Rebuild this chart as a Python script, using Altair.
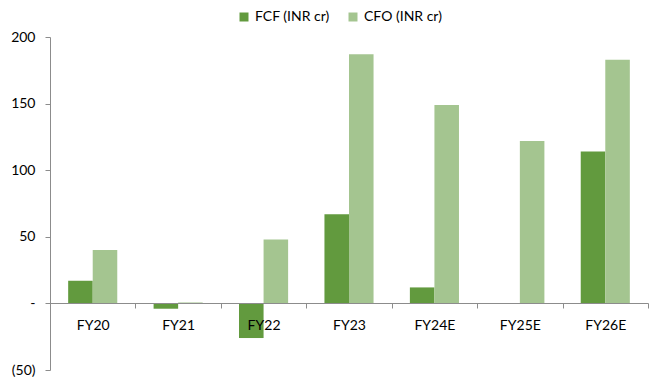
import altair as alt
import pandas as pd

# Fiscal years and cash-flow series (INR crore)
years = ["FY20", "FY21", "FY22", "FY23", "FY24E", "FY25E", "FY26E"]
fcf = [17, -4, -26, 67, 12, 0, 114]
cfo = [40, 0.7, 48, 187, 149, 122, 183]

series_names = ["FCF (INR cr)", "CFO (INR cr)"]
series_colors = ["#629A3E", "#A4C590"]

rows = []
for i, y in enumerate(years):
    rows.append({"year": y, "series": series_names[0], "value": fcf[i]})
    rows.append({"year": y, "series": series_names[1], "value": cfo[i]})
df = pd.DataFrame(rows)

FONT = "Lato"
AXIS_GREY = "#8C8C8C"

bars = alt.Chart(df).mark_bar().encode(
    x=alt.X(
        "year:N",
        sort=years,
        title=None,
        scale=alt.Scale(paddingInner=0, paddingOuter=0),
        axis=alt.Axis(
            orient="bottom",
            offset=-67,
            zindex=1,
            tickBand="extent",
            tickSize=5,
            tickColor=AXIS_GREY,
            domainColor=AXIS_GREY,
            labelAngle=0,
            labelPadding=10,
            labelFontSize=14,
            labelColor="#000000",
            labelFont=FONT,
        ),
    ),
    xOffset=alt.XOffset(
        "series:N",
        sort=series_names,
        scale=alt.Scale(paddingOuter=0.74, paddingInner=0),
    ),
    y=alt.Y(
        "value:Q",
        title=None,
        scale=alt.Scale(domain=[-50, 200], nice=False, zero=True),
        axis=alt.Axis(
            values=[-50, 0, 50, 100, 150, 200],
            labelExpr="datum.value == 0 ? '-' : (datum.value < 0 ? '(' + abs(datum.value) + ')' : datum.label)",
            grid=False,
            tickSize=5,
            tickColor=AXIS_GREY,
            domainColor=AXIS_GREY,
            labelPadding=10,
            labelFontSize=14,
            labelColor="#000000",
            labelFont=FONT,
        ),
    ),
    color=alt.Color(
        "series:N",
        sort=series_names,
        scale=alt.Scale(domain=series_names, range=series_colors),
        legend=alt.Legend(
            title=None,
            orient="none",
            direction="horizontal",
            legendX=187,
            legendY=-27,
            symbolType="square",
            symbolSize=81,
            symbolStrokeWidth=0,
            labelFontSize=14,
            labelFont=FONT,
            labelColor="#000000",
            labelOffset=4,
            columnPadding=16,
        ),
    ),
)

chart = bars.properties(
    width=598,
    height=333,
    autosize=alt.AutoSizeParams(type="none"),
    padding={"left": 50, "top": 37, "right": 12, "bottom": 10},
).configure_view(stroke=None)

chart.save("out.html", embed_options={"renderer": "svg", "actions": False})
